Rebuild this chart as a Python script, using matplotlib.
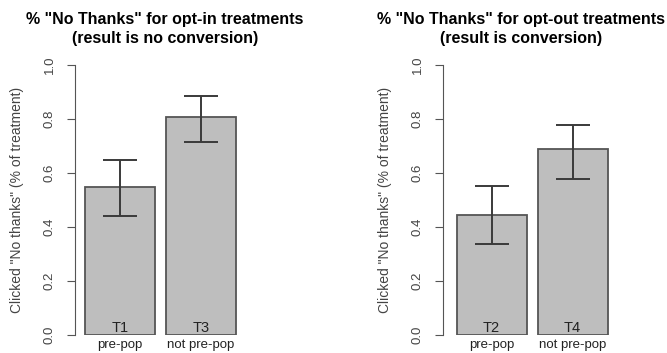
import matplotlib
matplotlib.use('Agg')
import matplotlib.pyplot as plt

plt.rcParams['font.family'] = ['Liberation Sans', 'DejaVu Sans']

# data
optin_labels = ['T1', 'T3']
optout_labels = ['T2', 'T4']
group_names = ['pre-pop', 'not pre-pop']
optin_vals = [0.548, 0.808]
optin_lo = [0.442, 0.716]
optin_hi = [0.650, 0.885]
optout_vals = [0.443, 0.688]
optout_lo = [0.338, 0.577]
optout_hi = [0.551, 0.778]
yticks = [0.0, 0.2, 0.4, 0.6, 0.8, 1.0]

titles = ['% "No Thanks" for opt-in treatments\n(result is no conversion)',
          '% "No Thanks" for opt-out treatments\n(result is conversion)']
ylabel = 'Clicked "No thanks" (% of treatment)'

W, H = 667, 353
fig = plt.figure(figsize=(W / 100, H / 100), dpi=100)

bar_x = [0.643, 1.80]
grey = '#bebebe'


def panel(ax, vals, lo, hi, labels, xlim):
    ax.bar(bar_x, vals, width=1.0, color=grey, edgecolor='#555555', linewidth=1.3)
    for x, v, l, h in zip(bar_x, vals, lo, hi):
        ax.errorbar(x, v, yerr=[[v - l], [h - v]], color='#3a3a3a', lw=1.4,
                    capsize=12.5, capthick=1.4)
    for x, t, g in zip(bar_x, labels, group_names):
        ax.text(x, 0.0, t, ha='center', va='bottom', fontsize=10.5, color='#222222')
        ax.text(x, -0.015, g, ha='center', va='top', fontsize=9.5, color='#222222')
    ax.set_xlim(*xlim)
    ax.set_ylim(0, 1.0)
    for s in ['top', 'right', 'bottom']:
        ax.spines[s].set_visible(False)
    ax.spines['left'].set_color('#555555')
    ax.set_xticks([])
    ax.set_yticks(yticks)
    ax.set_yticklabels(['%.1f' % v for v in yticks], rotation=90, va='center',
                       fontsize=9.5, color='#444444')
    ax.tick_params(axis='y', length=6, color='#555555', pad=8)
    ax.set_ylabel(ylabel, fontsize=10, color='#444444', labelpad=14)


ax1 = fig.add_axes([75 / W, 18 / H, 170 / W, 270 / H])
panel(ax1, optin_vals, optin_lo, optin_hi, optin_labels, (0, 170 / 70))
ax2 = fig.add_axes([443 / W, 18 / H, 170 / W, 270 / H])
panel(ax2, optout_vals, optout_lo, optout_hi, optout_labels, (-0.05, 170 / 70 - 0.05))

fig.text(165 / W, 1 - 29 / H, titles[0], ha='center', va='center', fontsize=11.5,
         fontweight='bold', linespacing=1.3)
fig.text(521 / W, 1 - 29 / H, titles[1], ha='center', va='center', fontsize=11.5,
         fontweight='bold', linespacing=1.3)

fig.savefig('out.png', dpi=100)
